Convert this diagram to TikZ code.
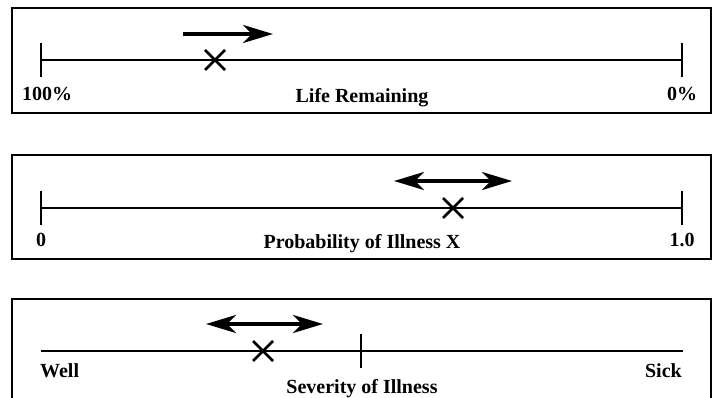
\documentclass[tikz,border=0pt]{standalone}
\usepackage{fontspec}
\setmainfont{Liberation Serif}
\usetikzlibrary{arrows.meta}
\newcommand{\estimate}[2] % x, y of centre (px)
{
	% draw the cross
	\draw[crossmark] (#1-10,#2-10) -- (#1+10,#2+10);
	\draw[crossmark] (#1-10,#2+10) -- (#1+10,#2-10);
}
\newcommand{\stoptick}[2] % x, y of scale line (px)
{
	\draw[scaletick] (#1,#2-17) -- (#1,#2+17);
}
\newcommand{\panel}[2] % top, bottom (px)
{
	\draw[panelframe] (12,#1) rectangle (711,#2);
}

\begin{document}
\begin{tikzpicture}[x=1pt, y=-1pt,
	panelframe/.style={line width=2.2pt},
	scaleline/.style={line width=1.8pt},
	scaletick/.style={line width=2pt},
	crossmark/.style={line width=2.6pt},
	shiftarrow/.style={line width=4pt, -{Stealth[length=30pt, width=18pt, inset=9pt]}},
	shiftboth/.style={line width=4pt, {Stealth[length=30pt, width=18pt, inset=9pt]}-{Stealth[length=30pt, width=18pt, inset=9pt]}},
	every node/.style={font=\fontsize{20}{23}\selectfont\bfseries, anchor=base, inner sep=0pt}]
	% 715 x 398 px, 1px = 1pt
	\clip (0,0) rectangle (715,398);
	\useasboundingbox (0,0) rectangle (715,398);
	
	% life remaining
	\panel{8}{113};
	\draw[scaleline] (41,60) -- (682,60);
	\stoptick{41}{60};
	\stoptick{682}{60};
	\draw[shiftarrow] (183,34) -- (273,34);
	\estimate{215}{60};
	\node[anchor=base west] (life100) at (22,101) {100\%};
	\node (lifename) at (362,103) {Life Remaining};
	\node (life0) at (682,101) {0\%};
	
	% probability
	\panel{155}{259};
	\draw[scaleline] (41,208) -- (682,208);
	\stoptick{41}{208};
	\stoptick{682}{208};
	\draw[shiftboth] (394,181) -- (512,181);
	\estimate{453}{208};
	\node (prob0) at (41,247) {0};
	\node (probname) at (362,248) {Probability of Illness X};
	\node (prob1) at (682,247) {1.0};
	
	% severity
	\panel{299}{420};
	\draw[scaleline] (41,351) -- (683,351);
	\draw[scaletick] (361,334) -- (361,368);
	\draw[shiftboth] (206,324) -- (323,324);
	\estimate{263}{351};
	\node[anchor=base west] (well) at (40,377) {Well};
	\node[anchor=base east] (sick) at (682,377) {Sick};
	\node (sevname) at (362,393) {Severity of Illness};
	
\end{tikzpicture}
\end{document}
